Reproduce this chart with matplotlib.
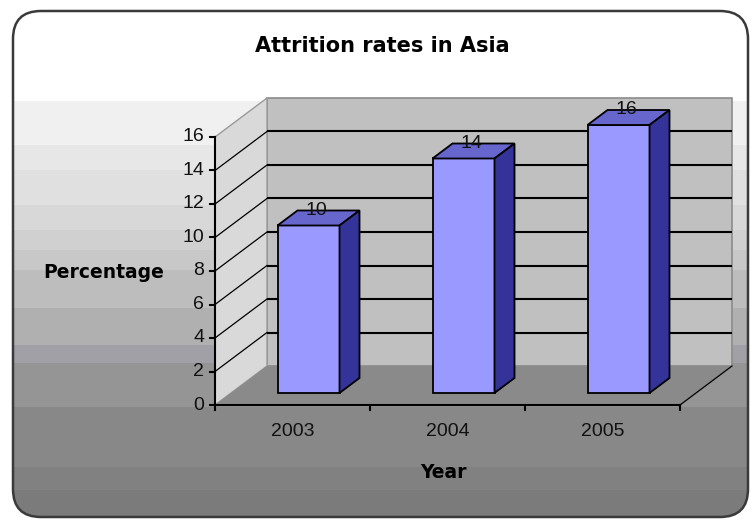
import matplotlib
matplotlib.use("Agg")
import matplotlib.pyplot as plt
import numpy as np
from matplotlib.patches import Polygon, FancyBboxPatch

# ---- data ----
title = "Attrition rates in Asia"
categories = ["2003", "2004", "2005"]
values = [10, 14, 16]
y_ticks = [0, 2, 4, 6, 8, 10, 12, 14, 16]
x_label = "Year"
y_label = "Percentage"

# ---- layout (pixels) ----
W, H = 752, 521
X0_PX, Y0_PX = 215, 405          # front origin of the plot (pixel, from top)
PX_PER_CAT = 155.0
PX_PER_VAL = 16.75
DEPTH_PX = (52, 39)              # depth offset of the back wall
BAR_F0, BAR_FD = 12 / 39, 15 / 39
BAR_W = 62 / 155

DX = DEPTH_PX[0] / PX_PER_CAT
DY = DEPTH_PX[1] / PX_PER_VAL
YMAX = y_ticks[-1]
NCAT = len(categories)

fig = plt.figure(figsize=(W / 100, H / 100), dpi=100)
fig.patch.set_facecolor("white")

# ---- background (pixel axes) ----
bg = fig.add_axes([0, 0, 1, 1])
bg.set_xlim(0, W)
bg.set_ylim(H, 0)
bg.axis("off")

bands = [(0, "#ffffff"), (101, "#f0f0f0"), (145, "#e7e7e7"), (170, "#e0e0e0"),
         (205, "#d8d8d8"), (230, "#d0d0d0"), (250, "#c8c8c8"), (270, "#bdbdbd"),
         (308, "#b0b0b0"), (345, "#a0a0a6"), (363, "#959595"), (407, "#888888"),
         (467, "#818181"), (490, "#7b7b7b")]
img = np.ones((H, 1, 3))
for k, (ys, col) in enumerate(bands):
    ye = bands[k + 1][0] if k + 1 < len(bands) else H
    rgb = np.array(matplotlib.colors.to_rgb(col))
    img[ys:ye, 0, :] = rgb

frame = FancyBboxPatch((13, 11), 735, 506, boxstyle="round,pad=0,rounding_size=28",
                       facecolor="none", edgecolor="none", transform=bg.transData)
bg.add_patch(frame)
im = bg.imshow(img, extent=(0, W, H, 0), aspect="auto", interpolation="nearest")
im.set_clip_path(frame)
bg.add_patch(FancyBboxPatch((13, 11), 735, 506, boxstyle="round,pad=0,rounding_size=28",
                            facecolor="none", edgecolor="#3a3a3a", lw=1.8, zorder=5))

# ---- chart axes: x in category units, y in value units ----
ax = fig.add_axes([0, 0, 1, 1])
ax.patch.set_visible(False)
ax.axis("off")
ax.set_xlim(-X0_PX / PX_PER_CAT, (W - X0_PX) / PX_PER_CAT)
ax.set_ylim(-(H - Y0_PX) / PX_PER_VAL, Y0_PX / PX_PER_VAL)

def px2data(px, py):
    return (px - X0_PX) / PX_PER_CAT, (Y0_PX - py) / PX_PER_VAL

# walls
ax.add_patch(Polygon([(DX, DY), (NCAT + DX, DY), (NCAT + DX, YMAX + DY), (DX, YMAX + DY)],
                     closed=True, facecolor="#c0c0c0", edgecolor="#8c8c8c", lw=1.2, zorder=1))
ax.add_patch(Polygon([(0, 0), (0, YMAX), (DX, YMAX + DY), (DX, DY)],
                     closed=True, facecolor="#d9d9d9", edgecolor="#9a9a9a", lw=1.0, zorder=1))
ax.add_patch(Polygon([(0, 0), (NCAT, 0), (NCAT + DX, DY), (DX, DY)],
                     closed=True, facecolor="#8a8a8a", edgecolor="none", zorder=1))

# gridlines
for v in y_ticks[1:-1]:
    ax.plot([DX, NCAT + DX], [v + DY, v + DY], color="black", lw=1.5, zorder=2,
            solid_capstyle="butt")
    ax.plot([0, DX], [v, v + DY], color="black", lw=0.9, zorder=2)
ax.plot([NCAT, NCAT + DX], [0, DY], color="black", lw=0.9, zorder=2)

# axes lines and ticks
tick_x = 5 / PX_PER_CAT
tick_y = 5 / PX_PER_VAL
ax.plot([0, 0], [0, YMAX], color="black", lw=1.5, zorder=3)
ax.plot([0, NCAT], [0, 0], color="black", lw=1.5, zorder=3)
for v in y_ticks:
    ax.plot([-tick_x, 0], [v, v], color="black", lw=1.5, zorder=3)
    ax.text(-11 / PX_PER_CAT, v, str(v), ha="right", va="center", fontsize=14,
            family="Liberation Sans", color="#111111")
for i in range(NCAT + 1):
    ax.plot([i, i], [0, -tick_y], color="black", lw=1.5, zorder=3)
for i, c in enumerate(categories):
    ax.text(i + 0.5, -26 / PX_PER_VAL, c, ha="center", va="center", fontsize=14,
            family="Liberation Sans", color="#111111")

# bars
for i, v in enumerate(values):
    xl = i + 0.5 - BAR_W / 2 + BAR_F0 * DX
    xr = xl + BAR_W
    yb = BAR_F0 * DY
    yt = v + BAR_F0 * DY
    ddx, ddy = BAR_FD * DX, BAR_FD * DY
    kw = dict(closed=True, edgecolor="black", lw=1.3, zorder=4, joinstyle="miter")
    ax.add_patch(Polygon([(xl, yb), (xr, yb), (xr, yt), (xl, yt)], facecolor="#9999ff", **kw))
    ax.add_patch(Polygon([(xl, yt), (xr, yt), (xr + ddx, yt + ddy), (xl + ddx, yt + ddy)],
                         facecolor="#6666cc", **kw))
    ax.add_patch(Polygon([(xr, yb), (xr + ddx, yb + ddy), (xr + ddx, yt + ddy), (xr, yt)],
                         facecolor="#333399", **kw))
    ax.text(i + 0.5 + (BAR_F0 + BAR_FD * 0.4) * DX, yt + ddy, str(v), ha="center",
            va="center", fontsize=14, family="Liberation Sans", color="#111111", zorder=6)

# titles
tx, ty = px2data(382, 46)
ax.text(tx, ty, title, ha="center", va="center", fontsize=15, fontweight="bold",
        family="DejaVu Sans")
tx, ty = px2data(104, 273)
ax.text(tx, ty, y_label, ha="center", va="center", fontsize=13.5, fontweight="bold",
        family="DejaVu Sans")
tx, ty = px2data(443, 473)
ax.text(tx, ty, x_label, ha="center", va="center", fontsize=13.5, fontweight="bold",
        family="DejaVu Sans")

fig.savefig("out.png", dpi=100)
